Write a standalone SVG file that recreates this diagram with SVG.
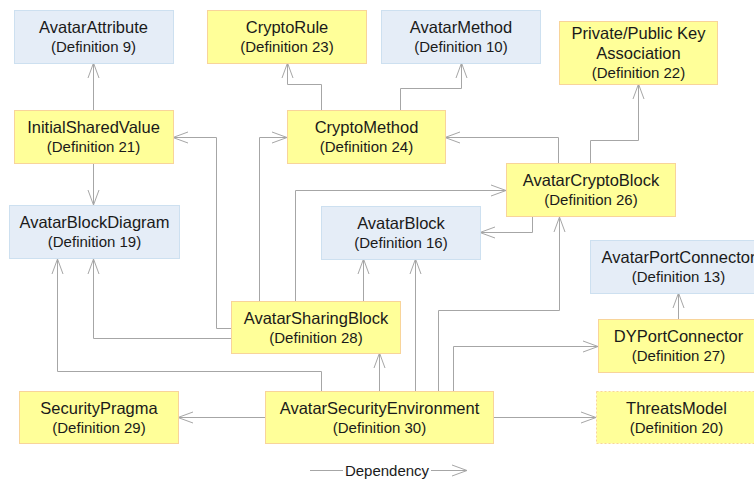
<svg xmlns="http://www.w3.org/2000/svg" width="754" height="479" viewBox="0 0 754 479">
<defs>
<marker id="arr" markerUnits="userSpaceOnUse" markerWidth="20" markerHeight="14" refX="0" refY="0" orient="auto" overflow="visible">
<path d="M-15,-5.5 L0,0 L-15,5.5" fill="none" stroke="#a6a6a6" stroke-width="1"/>
</marker>
</defs>
<style>
.y{fill:#ffff99;stroke:#f8d49a;stroke-width:1}
.b{fill:#e5edf7;stroke:#cde0f0;stroke-width:1}
.d{stroke-dasharray:2,2}
.t{font-family:"Liberation Sans",Arial,sans-serif;font-size:16.5px;fill:#1a1a1a;text-anchor:middle}
.s{font-family:"Liberation Sans",Arial,sans-serif;font-size:15px;fill:#1a1a1a;text-anchor:middle}
.c{fill:none;stroke:#a6a6a6;stroke-width:1;marker-end:url(#arr)}
.l{fill:none;stroke:#a6a6a6;stroke-width:1}
</style>
<rect width="754" height="479" fill="#ffffff"/>
<g id="connectors">
<path class="c" d="M93.5,110 V63"/>
<path class="c" d="M93.5,163 V205"/>
<path class="c" d="M231,328.5 H216.5 V137.5 H173"/>
<path class="c" d="M259.5,301 V137.5 H287"/>
<path class="c" d="M295.5,301 V190.5 H506"/>
<path class="c" d="M231,338.5 H93.5 V259"/>
<path class="c" d="M363.5,301 V259"/>
<path class="c" d="M321.5,391 V371.5 H57.5 V259"/>
<path class="c" d="M379.5,391 V353"/>
<path class="c" d="M415.5,391 V259"/>
<path class="c" d="M438.5,391 V310.5 H559.5 V217"/>
<path class="c" d="M453.5,391 V346.5 H598"/>
<path class="c" d="M265,417.5 H178"/>
<path class="c" d="M493,417.5 H596"/>
<path class="c" d="M678.5,319 V293"/>
<path class="c" d="M321.5,110 V84.5 H287.5 V63"/>
<path class="c" d="M400.5,110 V88.5 H461.5 V63"/>
<path class="c" d="M558.5,163 V137.5 H445"/>
<path class="c" d="M590.5,163 V140.5 H638.5 V84"/>
<path class="c" d="M532.5,217 V232.5 H480"/>
</g>
<g id="AvatarAttribute"><rect class="b" x="14.5" y="10.5" width="159" height="53"/><text class="t" x="93.5" y="32.5">AvatarAttribute</text><text class="s" x="93.5" y="51.5">(Definition 9)</text></g>
<g id="CryptoRule"><rect class="y" x="207.5" y="10.5" width="159" height="53"/><text class="t" x="287" y="32.5">CryptoRule</text><text class="s" x="287" y="51.5">(Definition 23)</text></g>
<g id="AvatarMethod"><rect class="b" x="381.5" y="10.5" width="159" height="53"/><text class="t" x="461" y="32.5">AvatarMethod</text><text class="s" x="461" y="51.5">(Definition 10)</text></g>
<g id="PrivatePublicKeyAssociation"><rect class="y" x="559.5" y="21.5" width="158" height="63"/><text class="t" x="638.5" y="38.5">Private/Public Key</text><text class="t" x="638.5" y="58.5">Association</text><text class="s" x="638.5" y="77.5">(Definition 22)</text></g>
<g id="InitialSharedValue"><rect class="y" x="14.5" y="110.5" width="159" height="53"/><text class="t" x="93.5" y="133">InitialSharedValue</text><text class="s" x="93.5" y="152">(Definition 21)</text></g>
<g id="CryptoMethod"><rect class="y" x="287.5" y="110.5" width="158" height="53"/><text class="t" x="366.5" y="133">CryptoMethod</text><text class="s" x="366.5" y="152">(Definition 24)</text></g>
<g id="AvatarCryptoBlock"><rect class="y" x="506.5" y="163.5" width="169" height="53"/><text class="t" x="591" y="186">AvatarCryptoBlock</text><text class="s" x="591" y="205">(Definition 26)</text></g>
<g id="AvatarBlockDiagram"><rect class="b" x="9.5" y="205.5" width="170" height="53"/><text class="t" x="94.5" y="228">AvatarBlockDiagram</text><text class="s" x="94.5" y="247">(Definition 19)</text></g>
<g id="AvatarBlock"><rect class="b" x="321.5" y="206.5" width="159" height="53"/><text class="t" x="401" y="229">AvatarBlock</text><text class="s" x="401" y="248">(Definition 16)</text></g>
<g id="AvatarPortConnector"><rect class="b" x="590.5" y="240.5" width="176" height="53"/><text class="t" x="678.5" y="263">AvatarPortConnector</text><text class="s" x="678.5" y="282">(Definition 13)</text></g>
<g id="AvatarSharingBlock"><rect class="y" x="231.5" y="301.5" width="169" height="52"/><text class="t" x="316" y="324">AvatarSharingBlock</text><text class="s" x="316" y="343">(Definition 28)</text></g>
<g id="DYPortConnector"><rect class="y" x="598.5" y="319.5" width="160" height="53"/><text class="t" x="678.5" y="342">DYPortConnector</text><text class="s" x="678.5" y="361">(Definition 27)</text></g>
<g id="SecurityPragma"><rect class="y" x="19.5" y="391.5" width="159" height="52"/><text class="t" x="99" y="414">SecurityPragma</text><text class="s" x="99" y="433">(Definition 29)</text></g>
<g id="AvatarSecurityEnvironment"><rect class="y" x="265.5" y="391.5" width="228" height="52"/><text class="t" x="379.5" y="414">AvatarSecurityEnvironment</text><text class="s" x="379.5" y="433">(Definition 30)</text></g>
<g id="ThreatsModel"><rect class="y d" x="596.5" y="391.5" width="161" height="52"/><text class="t" x="676.5" y="414">ThreatsModel</text><text class="s" x="676.5" y="433">(Definition 20)</text></g>
<g id="legend">
<path class="l" d="M310,470.5 H343"/>
<text x="387" y="475.5" font-family="'Liberation Sans',Arial,sans-serif" font-size="15" fill="#1a1a1a" text-anchor="middle">Dependency</text>
<path class="c" d="M431,470.5 H467"/>
</g>
</svg>
